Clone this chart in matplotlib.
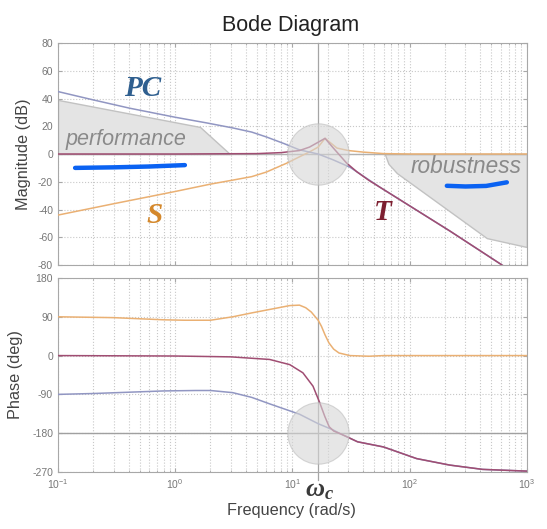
import numpy as np
import matplotlib.pyplot as plt
from matplotlib import transforms

plt.rcParams['font.family'] = 'Liberation Sans'
plt.rcParams['axes.unicode_minus'] = False
plt.rcParams['mathtext.fontset'] = 'custom'
plt.rcParams['mathtext.it'] = 'Liberation Serif:italic:bold'
plt.rcParams['mathtext.rm'] = 'Liberation Sans'

# crossover frequency (rad/s)
w_c = 16.6

# magnitude (dB)
freq_pc = [0.1, 0.2, 0.41, 1.0, 1.86, 3.1, 4.5, 6.0, 8.5, 11.5, 16.6, 22, 31, 56, 220, 590, 1000]
mag_pc = [45, 39, 33, 26.5, 22.4, 18.8, 15.8, 12.3, 7.5, 3, 0, -4, -9.5, -24, -55.4, -79, -92]

freq_t = [0.1, 1.0, 5.0, 8.0, 11.5, 14.0, 16.6, 19.0, 22.0, 29.0, 35.5, 45.0, 56, 220, 590, 1000]
mag_t = [0, 0, 0.3, 1, 2.5, 5, 8.5, 11.3, 5, -6.5, -12.8, -19, -24, -55.4, -79, -92]

freq_s = [0.1, 0.3, 1.0, 2.0, 3.1, 4.5, 6.0, 9.0, 11.5, 14.0, 16.6, 19.0, 24.0, 30.0, 40.0, 60.0, 100, 1000]
mag_s = [-44, -35.8, -27, -21.7, -18.8, -16.3, -13, -6.5, -2, 1.5, 5, 11.3, 4.3, 2.5, 1.4, 0.3, 0, 0]

# phase (deg)
ph_freq_s = [0.1, 0.3, 0.8, 1.2, 2.0, 3.1, 4.5, 6.4, 9.5, 11.5, 13.0, 14.5, 16.6, 17.7, 19.0, 20.5, 22.5, 25.0, 31.0, 45.0, 60.0, 1000]
ph_s = [90, 88, 83, 82, 82, 90, 99, 107, 116, 117, 111, 101, 82, 68, 48, 29.5, 15, 6, 0, -1.5, 0, 0]

ph_freq_t = [0.1, 1.0, 3.0, 6.4, 9.5, 12.3, 15.0, 17.1, 18.9, 20.6, 22.5, 25.5, 29, 36, 60, 115, 220, 420, 1000]
ph_t = [0, -1, -3, -9, -21, -40, -71, -109, -141, -165, -175, -181, -188, -200, -212, -239, -254, -264, -268]

ph_freq_pc = [0.1, 0.2, 0.4, 0.8, 1.5, 2.0, 3.1, 4.5, 6.4, 11.5, 16.6, 22.5, 25.5, 29, 36, 60, 115, 220, 420, 1000]
ph_pc = [-90, -88, -85, -82, -81, -81, -86, -97, -112, -136, -158, -173, -181, -188, -200, -212, -239, -254, -264, -268]

# shaded specification regions
perf_freq = [0.1, 1.63, 2.93]
perf_mag = [39, 19.5, 0]
rob_freq = [61.5, 66, 77.8, 456, 1000]
rob_mag = [0, -7, -13.7, -60.6, -67]

# blue pen strokes
stroke1_freq = [0.14, 0.3, 0.6, 1.21]
stroke1_mag = [-10, -9.6, -9, -8]
stroke2_freq = [208, 300, 450, 676]
stroke2_mag = [-22.9, -23.4, -23.0, -20.4]

c_pc = '#9196c2'
c_t = '#a04d72'
c_s = '#eab073'
grid_c = '#c8c8c8'
spine_c = '#a8a8a8'
tick_c = '#777777'

fig = plt.figure(figsize=(5.47, 5.29), dpi=100)
ax1 = fig.add_axes([0.106, 0.499, 0.857, 0.4197])
ax2 = fig.add_axes([0.106, 0.1078, 0.857, 0.3667])

for ax in (ax1, ax2):
    ax.set_xscale('log')
    ax.set_xlim(0.1, 1000)
    ax.grid(True, which='major', color=grid_c, linestyle=':', linewidth=0.8)
    ax.grid(True, which='minor', axis='x', color=grid_c, linestyle=':', linewidth=0.8)
    ax.tick_params(which='both', direction='in', top=True, right=True,
                   colors=spine_c, labelcolor=tick_c, labelsize=7.5, length=3)
    ax.tick_params(which='minor', length=1.5)
    for sp in ax.spines.values():
        sp.set_color(spine_c)
    ax.set_axisbelow(True)

# magnitude
ax1.set_ylim(-80, 80)
ax1.set_yticks(np.arange(-80, 81, 20))
ax1.tick_params(labelbottom=False)
ax1.fill_between(perf_freq, perf_mag, 0, facecolor='#e4e4e4', edgecolor='#c2c2c2', linewidth=1.0, zorder=1)
ax1.fill_between(rob_freq, rob_mag, 0, facecolor='#e4e4e4', edgecolor='#c2c2c2', linewidth=1.0, zorder=1)
ax1.axhline(0, color='#b0b0b0', linewidth=1.0, zorder=1)
ax1.plot(freq_s, mag_s, color=c_s, linewidth=1.1, zorder=3)
ax1.plot(freq_pc, mag_pc, color=c_pc, linewidth=1.1, zorder=3)
ax1.plot(freq_t, mag_t, color=c_t, linewidth=1.1, zorder=3)
ax1.scatter([w_c], [0], s=1950, color='#d6d6d6', alpha=0.6, edgecolors='#bdbdbd', linewidths=0.8, zorder=4)
ax1.plot(stroke1_freq, stroke1_mag, color='#0a62f2', linewidth=3.2, solid_capstyle='round', zorder=6)
ax1.plot(stroke2_freq, stroke2_mag, color='#0a62f2', linewidth=3.2, solid_capstyle='round', zorder=6)

ax1.text(0.53, 47, 'PC', family='Liberation Serif', style='italic', weight='bold',
         fontsize=21, color='#2f5f8f', ha='center', va='center', zorder=7)
ax1.text(0.67, -44, 'S', family='Liberation Serif', style='italic', weight='bold',
         fontsize=21, color='#d4882c', ha='center', va='center', zorder=7)
ax1.text(59, -42, 'T', family='Liberation Serif', style='italic', weight='bold',
         fontsize=21, color='#7d1f30', ha='center', va='center', zorder=7)
ax1.text(0.115, 10.8, 'performance', style='italic', fontsize=15.5, color='#8a8a8a',
         ha='left', va='center', zorder=7)
ax1.text(906, -8.7, 'robustness', style='italic', fontsize=16.3, color='#8a8a8a',
         ha='right', va='center', zorder=7)

# phase
ax2.set_ylim(-270, 180)
ax2.set_yticks(np.arange(-270, 181, 90))
ax2.axhline(-180, color='#a0a0a0', linewidth=1.0, zorder=1)
ax2.plot(ph_freq_s, ph_s, color=c_s, linewidth=1.1, zorder=3)
ax2.plot(ph_freq_pc, ph_pc, color=c_pc, linewidth=1.1, zorder=3)
ax2.plot(ph_freq_t, ph_t, color=c_t, linewidth=1.1, zorder=3)
ax2.scatter([w_c], [-180], s=1950, color='#d6d6d6', alpha=0.6, edgecolors='#bdbdbd', linewidths=0.8, zorder=4)

# crossover line through both plots
ax1.axvline(w_c, ymin=-0.07, ymax=1, color='#a5a5a5', linewidth=0.9, clip_on=False, zorder=2)
ax2.axvline(w_c, ymin=-0.04, ymax=1, color='#a5a5a5', linewidth=0.9, clip_on=False, zorder=2)

trans = transforms.blended_transform_factory(ax2.transData, ax2.transAxes)
ax2.text(w_c * 1.02, -0.095, r'$\omega_c$', transform=trans, fontsize=19, color='#3a3a3a',
         ha='center', va='center')

fig.text(291 / 547, 1 - 25 / 529, 'Bode Diagram', ha='center', va='center', fontsize=15.5, color='#222222')
fig.text(291 / 547, 1 - 510 / 529, 'Frequency (rad/s)', ha='center', va='center', fontsize=11.7, color='#444444')
fig.text(24 / 547, 1 - 154 / 529, 'Magnitude (dB)', ha='center', va='center', rotation=90, fontsize=11.7, color='#444444')
fig.text(16 / 547, 1 - 375 / 529, 'Phase (deg)', ha='center', va='center', rotation=90, fontsize=11.7, color='#444444')

fig.savefig('out.png', dpi=100)
